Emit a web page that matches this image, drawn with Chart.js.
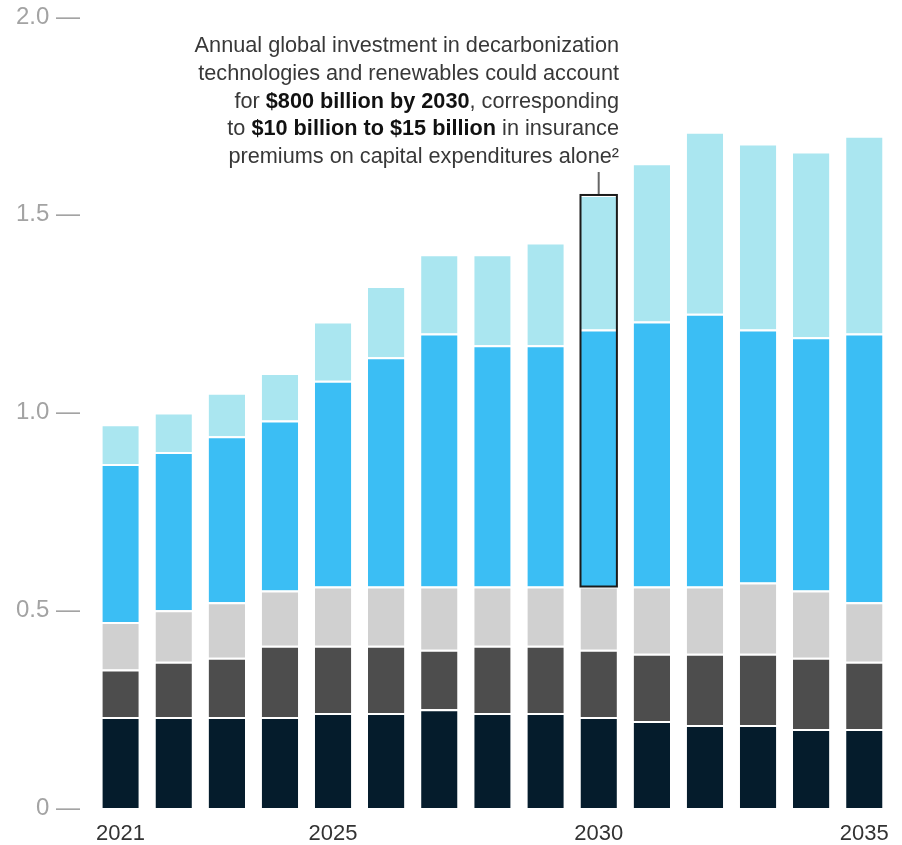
<!DOCTYPE html>
<html>
<head>
<meta charset="utf-8">
<script src="https://cdn.jsdelivr.net/npm/chart.js@4.4.1/dist/chart.umd.min.js"></script>
<style>
  html, body { margin: 0; padding: 0; background: #fff; }
  .wrap { width: 902px; height: 845px; position: relative; }
</style>
</head>
<body>
<div class="wrap"><canvas class="invest-chart"></canvas></div>
<script>
const years = ["2021", "2022", "2023", "2024", "2025", "2026", "2027", "2028",
  "2029", "2030", "2031", "2032", "2033", "2034", "2035"];
const shownYears = ["2021", "2025", "2030", "2035"];
const yTicks = [0, 0.5, 1.0, 1.5, 2.0];

// stacked segments, bottom to top
const navySeg = [0.23, 0.23, 0.23, 0.23, 0.24, 0.24, 0.25, 0.24, 0.24, 0.23, 0.22, 0.21, 0.21, 0.20, 0.20];
const darkGraySeg = [0.12, 0.14, 0.15, 0.18, 0.17, 0.17, 0.15, 0.17, 0.17, 0.17, 0.17, 0.18, 0.18, 0.18, 0.17];
const lightGraySeg = [0.12, 0.13, 0.14, 0.14, 0.15, 0.15, 0.16, 0.15, 0.15, 0.16, 0.17, 0.17, 0.18, 0.17, 0.15];
const blueSeg = [0.40, 0.40, 0.42, 0.43, 0.52, 0.58, 0.64, 0.61, 0.61, 0.65, 0.67, 0.69, 0.64, 0.64, 0.68];
const cyanSeg = [0.10, 0.10, 0.11, 0.12, 0.15, 0.18, 0.20, 0.23, 0.26, 0.34, 0.40, 0.46, 0.47, 0.47, 0.50];

const highlightYear = "2030";

const note = [
  [["Annual global investment in decarbonization", false]],
  [["technologies and renewables could account", false]],
  [["for ", false], ["$800 billion by 2030", true], [", corresponding", false]],
  [["to ", false], ["$10 billion to $15 billion", true], [" in insurance", false]],
  [["premiums on capital expenditures alone\u00B2", false]],
];

const FONT = "'Liberation Sans', Arial, sans-serif";

// box around the highlighted year's top two segments + callout text
const calloutPlugin = {
  id: "callout",
  afterDatasetsDraw(chart) {
    const c = chart.ctx;
    const i = years.indexOf(highlightYear);
    const blue = chart.getDatasetMeta(3).data[i];
    const cyan = chart.getDatasetMeta(4).data[i];
    const left = blue.x - blue.width / 2;
    const top = cyan.y;
    const bottom = blue.base;

    c.save();
    c.strokeStyle = "#1b1b1b";
    c.lineWidth = 2;
    c.strokeRect(left, top, blue.width, bottom - top);

    c.strokeStyle = "#666";
    c.beginPath();
    c.moveTo(blue.x, top - 1);
    c.lineTo(blue.x, 172);
    c.stroke();

    const right = 619;
    c.textBaseline = "alphabetic";
    note.forEach((line, n) => {
      const y = 52 + n * 27.75;
      const widths = line.map(([t, b]) => {
        c.font = (b ? "bold " : "") + "21.7px " + FONT;
        return c.measureText(t).width;
      });
      let x = right - widths.reduce((a, w) => a + w, 0);
      line.forEach(([t, b], k) => {
        c.font = (b ? "bold " : "") + "21.7px " + FONT;
        c.fillStyle = b ? "#111" : "#383838";
        c.fillText(t, x, y);
        x += widths[k];
      });
    });
    c.restore();
  },
};

const colors = ["#051C2C", "#4D4D4D", "#D0D0D0", "#3BBEF4", "#AAE6F0"];
const segs = [navySeg, darkGraySeg, lightGraySeg, blueSeg, cyanSeg];

new Chart(document.querySelector(".invest-chart"), {
  type: "bar",
  data: {
    labels: years,
    datasets: segs.map((d, k) => ({
      label: "segment " + (k + 1),
      data: d,
      backgroundColor: colors[k],
      borderColor: "#fff",
      borderWidth: { top: 2, bottom: 0, left: 0, right: 0 },
      borderSkipped: false,
      categoryPercentage: 1,
      barPercentage: 0.685,
    })),
  },
  options: {
    responsive: true,
    maintainAspectRatio: false,
    animation: false,
    layout: { padding: { top: 17, right: 6, left: 0, bottom: 0 } },
    scales: {
      x: {
        stacked: true,
        grid: { display: false, drawTicks: false },
        border: { display: false },
        afterFit(scale) { scale.height = 37; },
        ticks: {
          autoSkip: false,
          maxRotation: 0,
          padding: 13,
          color: "#333",
          font: { family: FONT, size: 22 },
          callback: (v, idx) => (shownYears.includes(years[idx]) ? years[idx] : ""),
        },
      },
      y: {
        stacked: true,
        min: 0,
        max: 2,
        grid: { display: false, drawTicks: false },
        border: { display: false },
        afterFit(scale) {
          scale.width = 94;
          scale.paddingTop = 0;
          scale.paddingBottom = 0;
        },
        afterBuildTicks(scale) { scale.ticks = yTicks.map((v) => ({ value: v })); },
        ticks: {
          padding: 14,
          color: "#a3a3a3",
          font: { family: FONT, size: 24 },
          callback: (v) => (v === 0 ? "0" : v.toFixed(1)) + " \u2014",
        },
      },
    },
    plugins: {
      legend: { display: false },
      tooltip: { enabled: false },
    },
  },
  plugins: [calloutPlugin],
});
</script>
</body>
</html>
